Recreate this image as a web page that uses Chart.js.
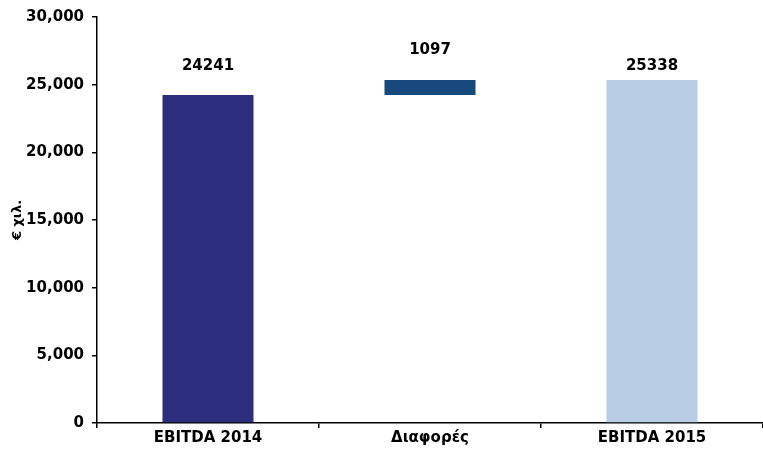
<!DOCTYPE html>
<html lang="el">
<head>
    <meta charset="UTF-8">
    <title>EBITDA 2014 - 2015</title>
    <script src="https://cdn.jsdelivr.net/npm/chart.js"></script>
    <style>
        html, body { margin: 0; padding: 0; background: #fff; }
        #wrap { width: 763px; height: 453px; }
    </style>
</head>
<body>
    <div id="wrap"><canvas id="ebitdaChart"></canvas></div>
    <script>
        // data
        const categories = ['EBITDA 2014', 'Διαφορές', 'EBITDA 2015'];
        const ebitda2014 = 24241;
        const diff = 1097;
        const ebitda2015 = 25338;
        const barRanges = [[0, ebitda2014], [ebitda2014, ebitda2014 + diff], [0, ebitda2015]];
        const barLabels = ['24241', '1097', '25338'];
        const barColors = ['#2c2e7d', '#17497c', '#b8cce4'];
        const yTicks = [0, 5000, 10000, 15000, 20000, 25000, 30000];

        const FONT = 'DejaVu Sans, Verdana, sans-serif';

        // labels above the bars (gap in px as seen in the original)
        const labelGap = [29, 30, 14];
        const valueLabels = {
            id: 'valueLabels',
            afterDatasetsDraw(chart) {
                const ctx = chart.ctx;
                const meta = chart.getDatasetMeta(0);
                ctx.save();
                ctx.font = 'bold 15px ' + FONT;
                ctx.fillStyle = '#000';
                ctx.textAlign = 'center';
                ctx.textBaseline = 'middle';
                meta.data.forEach((bar, i) => {
                    const top = chart.scales.y.getPixelForValue(barRanges[i][1]);
                    ctx.fillText(barLabels[i], bar.x, top - labelGap[i]);
                });
                ctx.restore();
            }
        };

        const ctx = document.getElementById('ebitdaChart').getContext('2d');
        new Chart(ctx, {
            type: 'bar',
            data: {
                labels: categories,
                datasets: [{
                    data: barRanges,
                    backgroundColor: barColors,
                    borderWidth: 0,
                    categoryPercentage: 1,
                    barPercentage: 0.41
                }]
            },
            options: {
                responsive: true,
                maintainAspectRatio: false,
                animation: false,
                layout: { padding: { top: 17, right: 0, left: 0, bottom: 0 } },
                plugins: {
                    legend: { display: false },
                    tooltip: { enabled: false }
                },
                scales: {
                    x: {
                        offset: true,
                        grid: { offset: true, drawOnChartArea: false, tickLength: 5, color: '#000', lineWidth: 1.5 },
                        border: { color: '#000', width: 1.5 },
                        ticks: { color: '#000', font: { family: FONT, size: 15, weight: 'bold' }, padding: 1 },
                        afterFit(scale) { scale.height = 30; }
                    },
                    y: {
                        min: 0,
                        max: 30000,
                        afterBuildTicks(scale) { scale.ticks = yTicks.map(v => ({ value: v })); },
                        grid: { drawOnChartArea: false, tickLength: 5, color: '#000', lineWidth: 1.5 },
                        border: { color: '#000', width: 1.5 },
                        ticks: {
                            color: '#000',
                            padding: 8,
                            font: { family: FONT, size: 15, weight: 'bold' },
                            callback: v => v.toLocaleString('en-US')
                        },
                        title: {
                            display: true,
                            text: '€ χιλ.',
                            color: '#000',
                            font: { family: FONT, size: 13, weight: 'bold' },
                            padding: { top: 10, bottom: 0 }
                        },
                        afterFit(scale) { scale.width = 97; }
                    }
                }
            },
            plugins: [valueLabels]
        });
    </script>
</body>
</html>
